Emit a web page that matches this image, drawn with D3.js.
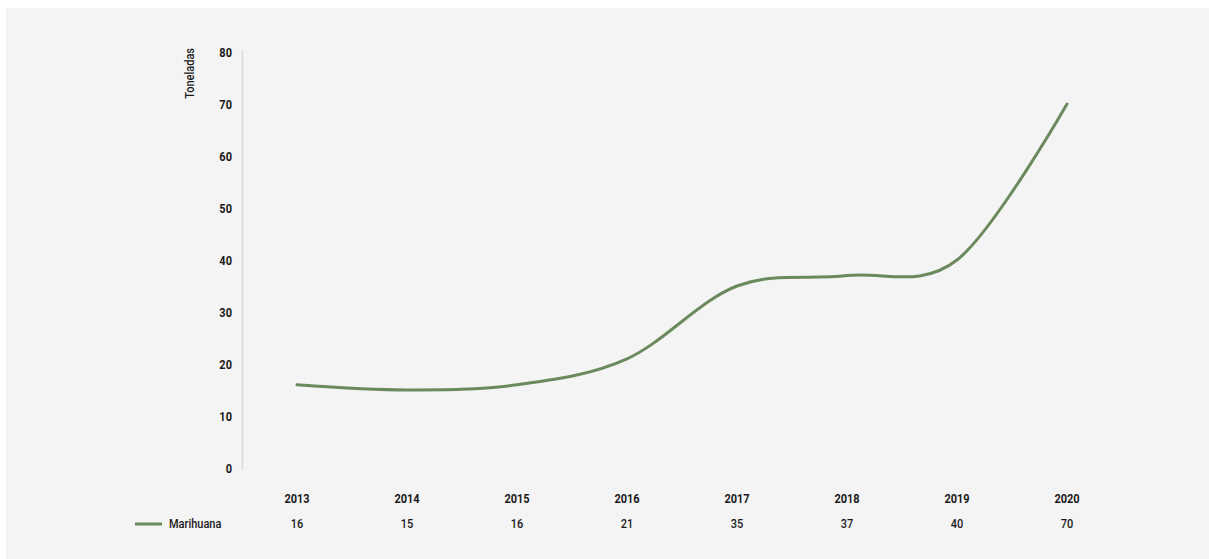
<!DOCTYPE html>
<html>
<head>
<meta charset="utf-8">
<script src="https://cdn.jsdelivr.net/npm/d3@7"></script>
<style>
  html, body { margin: 0; padding: 0; background: #ffffff; }
  svg { display: block; }
  text { font-family: Roboto, "Liberation Sans", sans-serif; fill: #1a1a1a; }
</style>
</head>
<body>
<svg id="chart" width="1209" height="559"></svg>
<script>
// Marijuana seizures per year (tonnes)
const years = ["2013", "2014", "2015", "2016", "2017", "2018", "2019", "2020"];
const marihuana = [16, 15, 16, 21, 35, 37, 40, 70];
const yTicks = [0, 10, 20, 30, 40, 50, 60, 70, 80];
const seriesName = "Marihuana";
const axisTitle = "Toneladas";

const W = 1209, H = 559;
const svg = d3.select("#chart");

// panel background
svg.append("rect")
  .attr("x", 6).attr("y", 8)
  .attr("width", W - 6).attr("height", H - 8)
  .attr("fill", "#f4f4f4");

const x = d3.scaleBand().domain(years).range([242, 1122]);
const y = d3.scaleLinear().domain([0, 80]).range([468, 52]);
const cx = d => x(d) + x.bandwidth() / 2;

const squeeze = 0.88; // narrow glyphs

// y axis line
svg.append("line")
  .attr("x1", 242.5).attr("x2", 242.5)
  .attr("y1", y(80) - 2).attr("y2", y(0) + 2)
  .attr("stroke", "#d9d9d9").attr("stroke-width", 1.5);

// y tick labels
svg.append("g").selectAll("text").data(yTicks).join("text")
  .attr("transform", d => `translate(232,${y(d) + 4.5}) scale(${squeeze},1)`)
  .attr("text-anchor", "end")
  .attr("font-size", 12.5).attr("font-weight", 700)
  .text(d => d);

// axis title
svg.append("text")
  .attr("transform", `translate(193.5,48) rotate(-90) scale(${squeeze},1)`)
  .attr("text-anchor", "end")
  .attr("font-size", 12.5).attr("font-weight", 500)
  .text(axisTitle);

// the series line
const line = d3.line()
  .x((d, i) => cx(years[i]))
  .y(d => y(d))
  .curve(d3.curveCardinal.tension(0));

svg.append("path")
  .datum(marihuana)
  .attr("d", line)
  .attr("fill", "none")
  .attr("stroke", "#6a8a5e")
  .attr("stroke-width", 3)
  .attr("stroke-linecap", "round");

// data table: year header row
svg.append("g").selectAll("text").data(years).join("text")
  .attr("transform", d => `translate(${cx(d)},503) scale(${squeeze},1)`)
  .attr("text-anchor", "middle")
  .attr("font-size", 12.5).attr("font-weight", 700)
  .text(d => d);

// data table: values row
svg.append("g").selectAll("text").data(marihuana).join("text")
  .attr("transform", (d, i) => `translate(${cx(years[i])},528) scale(${squeeze},1)`)
  .attr("text-anchor", "middle")
  .attr("font-size", 12.5).attr("font-weight", 500)
  .text(d => d);

// legend key
svg.append("line")
  .attr("x1", 135).attr("x2", 162)
  .attr("y1", 524).attr("y2", 524)
  .attr("stroke", "#6a8a5e").attr("stroke-width", 3);
svg.append("text")
  .attr("transform", `translate(169,528) scale(${squeeze},1)`)
  .attr("font-size", 12.5).attr("font-weight", 500)
  .text(seriesName);
</script>
</body>
</html>
